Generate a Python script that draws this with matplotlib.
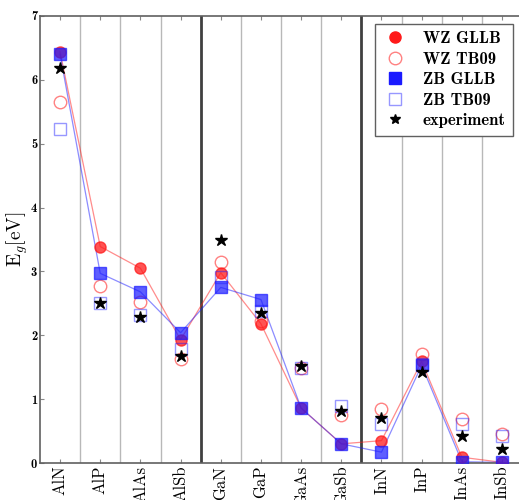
import os
import numpy as np
import matplotlib
matplotlib.use('Agg')
import matplotlib.pyplot as plt
from matplotlib import font_manager

# Computer Modern faces shipped with matplotlib
ttf_dir = os.path.join(matplotlib.get_data_path(), 'fonts', 'ttf')
for f in ('cmr10.ttf', 'cmb10.ttf'):
    font_manager.fontManager.addfont(os.path.join(ttf_dir, f))
plt.rcParams['mathtext.fontset'] = 'cm'
plt.rcParams['axes.formatter.use_mathtext'] = True

compounds = ['AlN', 'AlP', 'AlAs', 'AlSb', 'GaN', 'GaP',
             'GaAs', 'GaSb', 'InN', 'InP', 'InAs', 'InSb']
wz_gllb = [6.44, 3.39, 3.05, 1.93, 2.98, 2.18, 0.86, 0.30, 0.35, 1.59, 0.09, 0.01]
wz_tb09 = [5.66, 2.77, 2.52, 1.63, 3.14, 2.22, 1.49, 0.75, 0.84, 1.70, 0.69, 0.46]
zb_gllb = [6.40, 2.97, 2.68, 2.04, 2.75, 2.56, 0.86, 0.30, 0.17, 1.53, 0.02, 0.01]
zb_tb09 = [5.23, 2.50, 2.31, 1.79, 2.92, 2.38, 1.49, 0.90, 0.61, 1.55, 0.61, 0.42]
experiment = [6.19, 2.50, 2.29, 1.68, 3.49, 2.35, 1.52, 0.82, 0.70, 1.42, 0.42, 0.22]

x = np.arange(1, len(compounds) + 1)

fig = plt.figure(figsize=(5.19, 5.0), dpi=100)
ax = fig.add_axes([0.077, 0.074, 0.929, 0.894])

# separators between compounds, thick ones between Al / Ga / In groups
for b in np.arange(1.5, 12.5, 1.0):
    if b in (4.5, 8.5):
        ax.axvline(b, color='#404040', lw=2.0, zorder=1)
    else:
        ax.axvline(b, color='#b8b8b8', lw=1.0, zorder=1)

red = '#ff1a1a'
blue = '#1a1aff'

ax.plot(x, wz_gllb, '-', color=red, lw=0.9, alpha=0.5, zorder=2)
ax.plot(x, zb_gllb, '-', color=blue, lw=0.9, alpha=0.5, zorder=2)

ax.plot(x, wz_gllb, 'o', color=red, ms=8, alpha=0.75, mec=red, ls='none',
        label='WZ GLLB', zorder=3)
ax.plot(x, wz_tb09, 'o', mfc='none', mec=red, ms=9, alpha=0.55, mew=1.0, ls='none',
        label='WZ TB09', zorder=3)
ax.plot(x, zb_gllb, 's', color=blue, ms=8, alpha=0.7, mec=blue, ls='none',
        label='ZB GLLB', zorder=4)
ax.plot(x, zb_tb09, 's', mfc='none', mec=blue, ms=9, alpha=0.45, mew=1.0, ls='none',
        label='ZB TB09', zorder=4)
ax.plot(x, experiment, '*', color='black', ms=9, ls='none',
        label='experiment', zorder=5)

ax.set_xlim(0.5, 12.5)
ax.set_ylim(0, 7)
ax.set_xticks(x)
ax.set_xticklabels(compounds, rotation=90, fontsize=12, family='cmr10')
ax.set_yticks(range(8))
ax.set_yticklabels([str(v) for v in range(8)], fontsize=9, family='cmb10')
ax.tick_params(axis='both', direction='in', length=3, color='#888888', top=True, pad=2)
ax.set_ylabel(r'$\mathrm{E}_g\mathrm{[eV]}$', fontsize=14, labelpad=1)

for s in ax.spines.values():
    s.set_color('#606060')
    s.set_linewidth(1.2)

leg = ax.legend(loc='upper right', bbox_to_anchor=(0.982, 0.983),
                prop={'family': 'cmb10', 'size': 12},
                fancybox=False, edgecolor='#606060', framealpha=1,
                handlelength=1.4, handletextpad=1.0, borderpad=0.45,
                labelspacing=0.33, borderaxespad=0)
leg.get_frame().set_linewidth(1.0)
for h in leg.legend_handles[:1] + leg.legend_handles[2:3]:
    h.set_alpha(1.0)
leg.legend_handles[4].set_markersize(7)

fig.savefig('out.png', dpi=100)
